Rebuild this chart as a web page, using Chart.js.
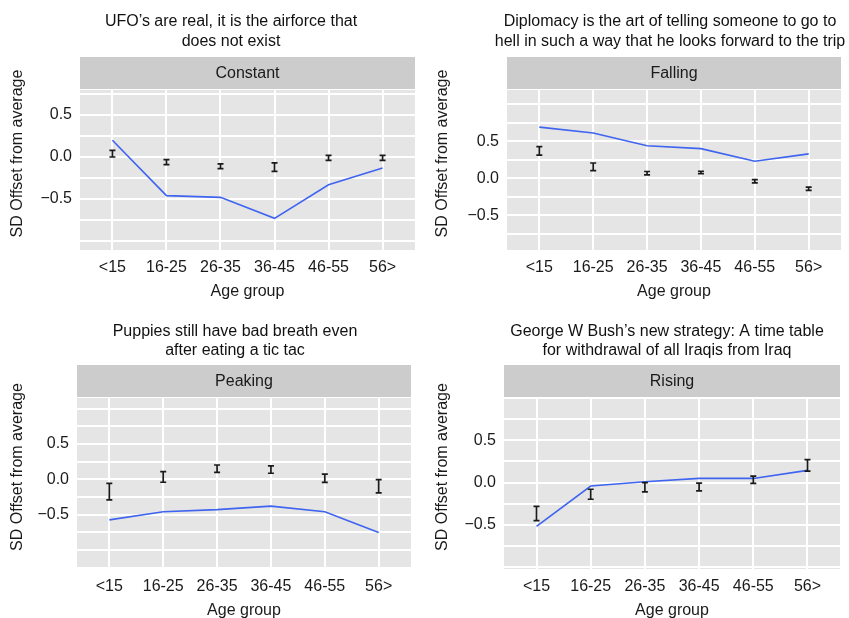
<!DOCTYPE html>
<html>
<head>
<meta charset="utf-8">
<script src="https://cdn.jsdelivr.net/npm/chart.js@4.4.1/dist/chart.umd.min.js"></script>
<style>
html, body { margin: 0; padding: 0; background: #fff; overflow: hidden; }
#wrap { position: relative; width: 849px; height: 618px; overflow: hidden; }
canvas { position: absolute; }
</style>
</head>
<body>
<div id="wrap">
  <canvas id="c1" width="425" height="309" style="left:0;top:0"></canvas>
  <canvas id="c2" width="424" height="309" style="left:425px;top:0"></canvas>
  <canvas id="c3" width="425" height="319" style="left:0;top:309px"></canvas>
  <canvas id="c4" width="424" height="319" style="left:425px;top:309px"></canvas>
</div>
<script>
// data
const ageGroups = ['<15', '16-25', '26-35', '36-45', '46-55', '56>'];
const yLabelled = [-0.5, 0, 0.5];

const constantLine = [0.20, -0.46, -0.48, -0.73, -0.33, -0.13];
const constantMean = [0.04, -0.06, -0.11, -0.12, -0.01, -0.01];
const constantErr  = [0.04, 0.03, 0.028, 0.05, 0.03, 0.03];

const fallingLine = [0.69, 0.61, 0.44, 0.40, 0.23, 0.33];
const fallingMean = [0.37, 0.155, 0.07, 0.08, -0.04, -0.14];
const fallingErr  = [0.057, 0.052, 0.022, 0.016, 0.022, 0.022];

const peakingLine = [-0.575, -0.46, -0.43, -0.38, -0.46, -0.755];
const peakingMean = [-0.175, 0.033, 0.15, 0.137, 0.014, -0.099];
const peakingErr  = [0.118, 0.075, 0.052, 0.052, 0.059, 0.094];

const risingLine = [-0.516, -0.04, 0.01, 0.05, 0.05, 0.145];
const risingMean = [-0.365, -0.137, -0.055, -0.051, 0.035, 0.205];
const risingErr  = [0.084, 0.059, 0.055, 0.045, 0.043, 0.068];

const FONT = '"Liberation Sans", Arial, sans-serif';
Chart.defaults.font.family = FONT;
Chart.defaults.font.size = 16;

// facet strip, titles, error bars
const facetPlugin = {
  id: 'facet',
  beforeDraw(chart, args, o) {
    const { ctx, chartArea: a } = chart;
    ctx.save();
    ctx.fillStyle = '#E5E5E5';
    ctx.fillRect(a.left, a.top, a.right - a.left, a.bottom - a.top);
    ctx.fillStyle = '#CCCCCC';
    ctx.fillRect(a.left, a.top - 33, a.right - a.left, 32);
    ctx.font = '16px ' + FONT;
    ctx.textAlign = 'center';
    ctx.textBaseline = 'middle';
    ctx.fillStyle = '#1a1a1a';
    ctx.fillText(o.strip, (a.left + a.right) / 2, a.top - 16.5);
    ctx.fillStyle = '#111';
    o.title.forEach((t, i) => ctx.fillText(t, o.titleX, o.titleY[i]));
    ctx.fillStyle = '#1a1a1a';
    ctx.translate(18, (a.top - 33 + a.bottom) / 2);
    ctx.rotate(-Math.PI / 2);
    ctx.fillText('SD Offset from average', 0, 0);
    ctx.restore();
  },
  afterDatasetsDraw(chart, args, o) {
    const { ctx, scales: { x, y } } = chart;
    ctx.save();
    ctx.strokeStyle = '#1a1a1a';
    ctx.lineWidth = 1.7;
    o.mean.forEach((m, i) => {
      const px = x.getPixelForValue(i);
      const top = y.getPixelForValue(m + o.err[i]);
      const bot = y.getPixelForValue(m - o.err[i]);
      ctx.beginPath();
      ctx.moveTo(px, top); ctx.lineTo(px, bot);
      ctx.moveTo(px - 3, top); ctx.lineTo(px + 3, top);
      ctx.moveTo(px - 3, bot); ctx.lineTo(px + 3, bot);
      ctx.stroke();
    });
    ctx.restore();
  }
};

function yLabel(v) {
  const hit = yLabelled.some(l => Math.abs(l - v) < 1e-6);
  if (!hit) return '';
  return v.toFixed(1).replace('-', '\u2212');
}

function makePanel(id, p) {
  new Chart(document.getElementById(id), {
    type: 'line',
    data: {
      datasets: [{
        data: p.line.map((v, i) => ({ x: i, y: v })),
        borderColor: '#3E64F0',
        borderWidth: 1.6,
        pointRadius: 0,
        tension: 0,
        fill: false
      }]
    },
    options: {
      responsive: false,
      animation: false,
      events: [],
      layout: { padding: { top: p.top, right: p.right, left: 0, bottom: 0 } },
      plugins: {
        legend: { display: false },
        tooltip: { enabled: false },
        facet: { strip: p.strip, title: p.title, titleX: p.titleX, titleY: p.titleY, mean: p.mean, err: p.err }
      },
      scales: {
        x: {
          type: 'linear',
          min: -0.6,
          max: 5.6,
          afterFit: s => { s.height = 59; },
          grid: { color: '#FFFFFF', lineWidth: 2, drawTicks: false },
          border: { display: false },
          ticks: {
            stepSize: 1,
            includeBounds: false,
            autoSkip: false,
            maxRotation: 0,
            padding: 8,
            color: '#1a1a1a',
            callback: v => ageGroups[v] ?? ''
          },
          title: { display: true, text: 'Age group', color: '#1a1a1a', padding: { top: 4, bottom: 8 } }
        },
        y: {
          min: p.ymin,
          max: p.ymax,
          afterFit: s => { s.width = p.left; },
          grid: { color: '#FFFFFF', lineWidth: 2, drawTicks: false },
          border: { display: false },
          ticks: {
            stepSize: 0.25,
            includeBounds: false,
            autoSkip: false,
            padding: 8,
            color: '#1a1a1a',
            callback: v => yLabel(v)
          }
        }
      }
    },
    plugins: [facetPlugin]
  });
}

makePanel('c1', {
  strip: 'Constant',
  title: ['UFO\u2019s are real, it is the airforce that', 'does not exist'],
  titleX: 231, titleY: [21.5, 42],
  line: constantLine, mean: constantMean, err: constantErr,
  ymin: -1.107, ymax: 0.798, top: 90, left: 80, right: 10
});
makePanel('c2', {
  strip: 'Falling',
  title: ['Diplomacy is the art of telling someone to go to', 'hell in such a way that he looks forward to the trip'],
  titleX: 245, titleY: [21.5, 42],
  line: fallingLine, mean: fallingMean, err: fallingErr,
  ymin: -0.965, ymax: 1.19, top: 90, left: 82, right: 8
});
makePanel('c3', {
  strip: 'Peaking',
  title: ['Puppies still have bad breath even', 'after eating a tic tac'],
  titleX: 235, titleY: [22.5, 41.5],
  line: peakingLine, mean: peakingMean, err: peakingErr,
  ymin: -1.27, ymax: 1.15, top: 89, left: 77, right: 14
});
makePanel('c4', {
  strip: 'Rising',
  title: ['George W Bush\u2019s new strategy: A time table', 'for withdrawal of all Iraqis from Iraq'],
  titleX: 242, titleY: [22.5, 41.5],
  line: risingLine, mean: risingMean, err: risingErr,
  ymin: -1.02, ymax: 1.0, top: 89, left: 79, right: 9
});
</script>
</body>
</html>
